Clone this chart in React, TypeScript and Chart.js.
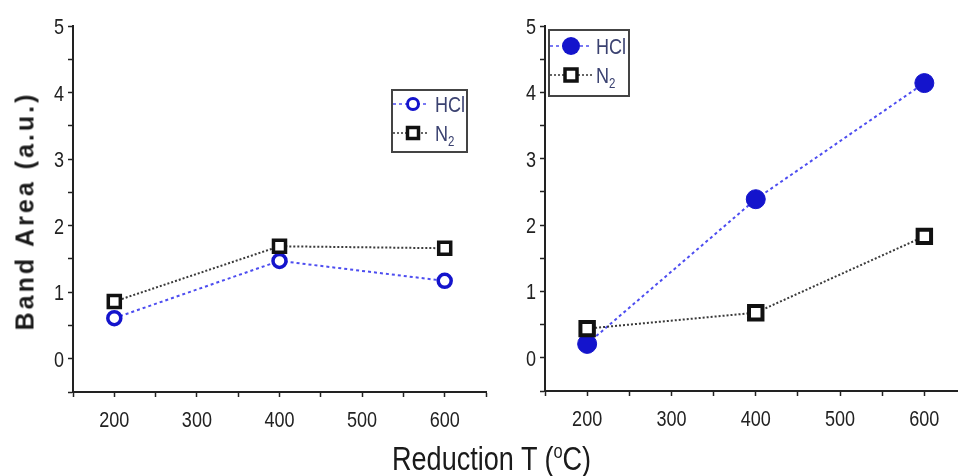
import React, { useEffect, useRef } from "react";
import { Chart, registerables } from "chart.js";

Chart.register(...registerables);

// ---- data ----
const temps = [200, 400, 600];
const leftHCl = [0.61, 1.47, 1.17];
const leftN2 = [0.86, 1.69, 1.66];
const rightHCl = [0.21, 2.39, 4.14];
const rightN2 = [0.44, 0.68, 1.83];
const seriesNames = ["HCl", "N", "2"]; // "N" + subscript "2"
const xLabelEvery = 100;
const xMin = 150;
const xMax = 650;
const yMin = -0.5;
const yMax = 5;
const yTitle = "Band Area (a.u.)";

const SANS = '"Liberation Sans", Arial, sans-serif';
const NARROW_SCALE = 0.82; // Arial Narrow ≈ Arial squeezed horizontally
const BLUE_LINE = "#4d4df0";
const BLUE = "#1414cc";
const BLACK = "#111";
const AXIS = "#222";

function narrowText(
  ctx: CanvasRenderingContext2D,
  text: string,
  x: number,
  y: number,
  size: number,
  align: CanvasTextAlign,
  color: string
) {
  ctx.save();
  ctx.translate(x, y);
  ctx.scale(NARROW_SCALE, 1);
  ctx.font = `${size}px ${SANS}`;
  ctx.textAlign = align;
  ctx.textBaseline = "alphabetic";
  ctx.fillStyle = color;
  ctx.fillText(text, 0, 0);
  ctx.restore();
}

const tickLabelPlugin = {
  id: "narrowTickLabels",
  afterDraw(chart: any) {
    const ctx = chart.ctx as CanvasRenderingContext2D;
    const xs = chart.scales.x;
    const ys = chart.scales.y;
    const size = 22;
    xs.ticks.forEach((t: any) => {
      const lbl = xs.options.ticks.callback(t.value);
      if (!lbl) return;
      narrowText(ctx, lbl, xs.getPixelForValue(t.value), xs.top + 35, size, "center", AXIS);
    });
    ys.ticks.forEach((t: any) => {
      const lbl = ys.options.ticks.callback(t.value);
      if (!lbl) return;
      narrowText(ctx, lbl, ys.right - 9, ys.getPixelForValue(t.value) + 8, size, "right", AXIS);
    });
  },
};

type LegendCfg = {
  box: [number, number, number, number];
  rows: [number, number];
  lineX: [number, number];
  markerX: number;
  textX: number;
  filled: boolean;
  circleR: number;
  squareH: number;
  fontSize: number;
};

function legendPlugin(cfg: LegendCfg) {
  return {
    id: "customLegend",
    afterDraw(chart: any) {
      const ctx = chart.ctx as CanvasRenderingContext2D;
      ctx.save();
      const [x0, y0, x1, y1] = cfg.box;
      ctx.strokeStyle = "#444";
      ctx.lineWidth = 2;
      ctx.setLineDash([]);
      ctx.strokeRect(x0, y0, x1 - x0, y1 - y0);
      const drawRowLine = (y: number, color: string, dash: number[]) => {
        ctx.save();
        ctx.strokeStyle = color;
        ctx.lineWidth = 1.5;
        ctx.setLineDash(dash);
        ctx.beginPath();
        ctx.moveTo(cfg.lineX[0], y);
        ctx.lineTo(cfg.lineX[1], y);
        ctx.stroke();
        ctx.restore();
      };
      drawRowLine(cfg.rows[0], BLUE_LINE, [3, 3]);
      drawRowLine(cfg.rows[1], "#333", [2, 2]);
      ctx.setLineDash([]);
      ctx.beginPath();
      ctx.arc(cfg.markerX, cfg.rows[0], cfg.circleR, 0, Math.PI * 2);
      if (cfg.filled) {
        ctx.fillStyle = BLUE;
        ctx.fill();
      } else {
        ctx.fillStyle = "#fff";
        ctx.fill();
        ctx.strokeStyle = BLUE;
        ctx.lineWidth = 3;
        ctx.stroke();
      }
      const h = cfg.squareH;
      ctx.fillStyle = "#fff";
      ctx.fillRect(cfg.markerX - h, cfg.rows[1] - h, 2 * h, 2 * h);
      ctx.strokeStyle = BLACK;
      ctx.lineWidth = 3.5;
      ctx.strokeRect(cfg.markerX - h, cfg.rows[1] - h, 2 * h, 2 * h);
      const fs = cfg.fontSize;
      const col = "#3a4170";
      narrowText(ctx, seriesNames[0], cfg.textX, cfg.rows[0] + fs * 0.36, fs, "left", col);
      narrowText(ctx, seriesNames[1], cfg.textX, cfg.rows[1] + fs * 0.36, fs, "left", col);
      ctx.font = `${fs}px ${SANS}`;
      const nW = ctx.measureText(seriesNames[1]).width * NARROW_SCALE;
      narrowText(ctx, seriesNames[2], cfg.textX + nW, cfg.rows[1] + fs * 0.6, Math.round(fs * 0.65), "left", col);
      ctx.restore();
    },
  };
}

function makeConfig(
  hcl: number[],
  n2: number[],
  opt: {
    yWidth: number;
    padRight: number;
    padTop: number;
    xHeight: number;
    filled: boolean;
    hclR: number;
    n2R: number;
    n2BW: number;
    legend: LegendCfg;
  }
): any {
  const pts = (arr: number[]) => temps.map((t, i) => ({ x: t, y: arr[i] }));
  const hidden = "rgba(0,0,0,0)";
  return {
    type: "line",
    data: {
      datasets: [
        {
          label: "HCl",
          data: pts(hcl),
          order: 1,
          borderColor: BLUE_LINE,
          borderWidth: 2,
          borderDash: [3, 3],
          pointStyle: "circle",
          pointRadius: opt.hclR,
          pointBorderWidth: opt.filled ? 1 : 3.5,
          pointBorderColor: BLUE,
          pointBackgroundColor: opt.filled ? BLUE : "#fff",
          tension: 0,
          fill: false,
        },
        {
          label: "N2",
          data: pts(n2),
          order: 0,
          borderColor: "#3a3a3a",
          borderWidth: 2,
          borderDash: [2, 2],
          pointStyle: "rect",
          pointRadius: opt.n2R,
          pointBorderWidth: opt.n2BW,
          pointBorderColor: BLACK,
          pointBackgroundColor: "#fff",
          tension: 0,
          fill: false,
        },
      ],
    },
    options: {
      animation: false,
      responsive: false,
      maintainAspectRatio: false,
      events: [],
      layout: {
        padding: { left: 0, right: opt.padRight, top: opt.padTop, bottom: 0 },
      },
      plugins: {
        legend: { display: false },
        tooltip: { enabled: false },
        title: { display: false },
      },
      scales: {
        x: {
          type: "linear",
          min: xMin,
          max: xMax,
          afterFit: (s: any) => {
            s.height = opt.xHeight;
          },
          ticks: {
            stepSize: 50,
            autoSkip: false,
            maxRotation: 0,
            padding: 6,
            color: hidden,
            font: { family: SANS, size: 18 },
            callback: (v: any) => (Number(v) % xLabelEvery === 0 ? String(v) : ""),
          },
          grid: {
            display: true,
            drawOnChartArea: false,
            drawTicks: true,
            tickLength: 5,
            tickColor: AXIS,
            tickWidth: 1.5,
          },
          border: { display: true, color: AXIS, width: 2 },
        },
        y: {
          type: "linear",
          min: yMin,
          max: yMax,
          afterFit: (s: any) => {
            s.width = opt.yWidth;
          },
          ticks: {
            stepSize: 0.5,
            autoSkip: false,
            padding: 3,
            color: hidden,
            font: { family: SANS, size: 18 },
            callback: (v: any) => (Number.isInteger(Number(v)) ? String(v) : ""),
          },
          grid: {
            display: true,
            drawOnChartArea: false,
            drawTicks: true,
            tickLength: 5,
            tickColor: AXIS,
            tickWidth: 1.5,
          },
          border: { display: true, color: AXIS, width: 2 },
        },
      },
    },
    plugins: [tickLabelPlugin, legendPlugin(opt.legend)],
  };
}

export default function App() {
  const leftRef = useRef<HTMLCanvasElement>(null);
  const rightRef = useRef<HTMLCanvasElement>(null);

  useEffect(() => {
    const left = new Chart(
      leftRef.current!,
      makeConfig(leftHCl, leftN2, {
        yWidth: 73,
        padRight: 14,
        padTop: 26,
        xHeight: 84,
        filled: false,
        hclR: 6.5,
        n2R: 8.5,
        n2BW: 3.5,
        legend: {
          box: [392, 90, 467, 152],
          rows: [104, 133],
          lineX: [393, 428],
          markerX: 413,
          textX: 435,
          filled: false,
          circleR: 5.5,
          squareH: 5.5,
          fontSize: 22,
        },
      })
    );
    const right = new Chart(
      rightRef.current!,
      makeConfig(rightHCl, rightN2, {
        yWidth: 45,
        padRight: 4,
        padTop: 26,
        xHeight: 85,
        filled: true,
        hclR: 9.5,
        n2R: 9.5,
        n2BW: 4,
        legend: {
          box: [49, 30, 129, 96],
          rows: [46, 75],
          lineX: [50, 92],
          markerX: 71,
          textX: 96,
          filled: true,
          circleR: 9,
          squareH: 6,
          fontSize: 22,
        },
      })
    );
    return () => {
      left.destroy();
      right.destroy();
    };
  }, []);

  return (
    <div
      style={{
        position: "fixed",
        left: 0,
        top: 0,
        width: 958,
        height: 476,
        overflow: "hidden",
        background: "#fff",
      }}
    >
      <canvas
        ref={leftRef}
        width={500}
        height={476}
        style={{ position: "absolute", left: 0, top: 0, width: 500, height: 476 }}
      />
      <canvas
        ref={rightRef}
        width={480}
        height={476}
        style={{ position: "absolute", left: 500, top: 0, width: 480, height: 476 }}
      />
      <div
        style={{
          position: "absolute",
          left: 25,
          top: 211,
          transform: "translate(-50%, -50%) rotate(-90deg)",
          fontFamily: SANS,
          fontWeight: "bold",
          fontSize: 25,
          lineHeight: "25px",
          letterSpacing: 3,
          whiteSpace: "nowrap",
          color: "#1a1a1a",
        }}
      >
        {yTitle}
      </div>
      <div
        style={{
          position: "absolute",
          left: 392,
          top: 442,
          fontFamily: SANS,
          fontSize: 33,
          lineHeight: "33px",
          whiteSpace: "nowrap",
          color: "#1a1a1a",
          transform: `scaleX(${NARROW_SCALE})`,
          transformOrigin: "left center",
        }}
      >
        Reduction T (<sup style={{ fontSize: 20, verticalAlign: "0.6em", lineHeight: 0 }}>o</sup>C)
      </div>
    </div>
  );
}
